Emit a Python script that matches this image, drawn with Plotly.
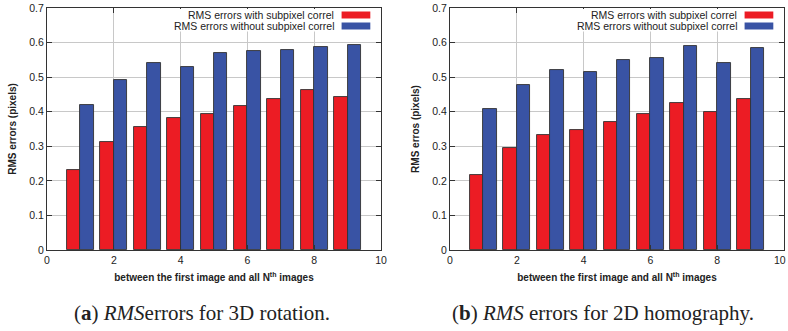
import plotly.graph_objects as go
from plotly.subplots import make_subplots

N = [1, 2, 3, 4, 5, 6, 7, 8, 9]
rot_with = [0.230, 0.313, 0.355, 0.383, 0.392, 0.416, 0.436, 0.464, 0.444]
rot_without = [0.418, 0.493, 0.540, 0.529, 0.571, 0.576, 0.579, 0.587, 0.594]
hom_with = [0.216, 0.295, 0.333, 0.348, 0.369, 0.392, 0.426, 0.398, 0.438]
hom_without = [0.409, 0.476, 0.522, 0.514, 0.551, 0.555, 0.589, 0.540, 0.585]

name_with = "RMS errors with subpixel correl"
name_without = "RMS errors without subpixel correl"
xticks = [0, 2, 4, 6, 8, 10]
yticks = [0, 0.1, 0.2, 0.3, 0.4, 0.5, 0.6, 0.7]
ylabels = ["RMS errors (pixels)", "RMS erros (pixels)"]
xlabel = "between the first image and all N<sup>th</sup> images"
captions = ["(<b>a</b>) <i>RMS</i>errors for 3D rotation.",
            "(<b>b</b>) <i>RMS</i> errors for 2D homography."]

RED = "#ec1c24"
BLUE = "#3953a4"

W, H = 788, 331
fig = make_subplots(rows=1, cols=2)

x_dom = [(47 / W, 381 / W), (450 / W, 784 / W)]
y_dom = (1 - 250 / H, 1 - 8 / H)

datasets = [(rot_with, rot_without), (hom_with, hom_without)]
for i, (vw, vwo) in enumerate(datasets):
    col = i + 1
    fig.add_trace(go.Bar(x=N, y=vw, width=0.4, offset=-0.4, name=name_with,
                         marker=dict(color=RED, line=dict(color="#333", width=0.9)),
                         showlegend=False), row=1, col=col)
    fig.add_trace(go.Bar(x=N, y=vwo, width=0.4, offset=0.0, name=name_without,
                         marker=dict(color=BLUE, line=dict(color="#333", width=0.9)),
                         showlegend=False), row=1, col=col)

axis_font = dict(family="Liberation Sans, Arial, sans-serif", size=10.5, color="#222")
title_font = dict(family="Liberation Sans, Arial, sans-serif", size=10, color="#222")

shapes = []
annotations = []
for i in range(2):
    xa = "xaxis" if i == 0 else "xaxis2"
    ya = "yaxis" if i == 0 else "yaxis2"
    fig.layout[xa].update(domain=x_dom[i], range=[0, 10], tickvals=xticks,
                          ticks="inside", ticklen=5, tickcolor="#333", mirror="ticks",
                          showline=True, linecolor="#333", linewidth=1,
                          showgrid=True, gridcolor="#c8c8c8", gridwidth=1,
                          zeroline=False, tickfont=axis_font, automargin=False,
                          title=dict(text="<b>" + xlabel + "</b>", font=title_font, standoff=9))
    fig.layout[ya].update(domain=y_dom, range=[0, 0.7], tickvals=yticks,
                          ticktext=[("%g" % v) for v in yticks],
                          ticks="inside", ticklen=5, tickcolor="#333", mirror="ticks",
                          showline=True, linecolor="#333", linewidth=1,
                          showgrid=True, gridcolor="#c8c8c8", gridwidth=1,
                          zeroline=False, tickfont=axis_font, automargin=False,
                          title=dict(text="<b>" + ylabels[i] + "</b>", font=title_font, standoff=10))

    # manual legend (text on left, swatch on right), white background covering grid
    xr = "x domain" if i == 0 else "x2 domain"
    yr = "y domain" if i == 0 else "y2 domain"
    shapes.append(dict(type="rect", xref=xr, yref=yr, x0=0.385, x1=0.993, y0=0.903, y1=0.996,
                       fillcolor="white", line=dict(width=0), layer="above"))
    for j, (nm, c) in enumerate([(name_with, RED), (name_without, BLUE)]):
        yc = 1 - (7 + 11 * j) / 242
        annotations.append(dict(xref=xr, yref=yr, x=0.865, y=yc, text=nm, showarrow=False,
                                xanchor="right", yanchor="middle",
                                font=dict(family="Liberation Sans, Arial, sans-serif", size=10.5, color="#222")))
        shapes.append(dict(type="rect", xref=xr, yref=yr, x0=0.882, x1=0.968,
                           y0=yc - 3.5 / 242, y1=yc + 3.5 / 242,
                           fillcolor=c, line=dict(width=0), layer="above"))

    cx = [202 / W, 603 / W][i]
    annotations.append(dict(xref="paper", yref="paper", x=cx, y=1 - 313 / H, text=captions[i],
                            showarrow=False, xanchor="center", yanchor="middle",
                            font=dict(family="Liberation Serif, Times New Roman, serif", size=21, color="#222")))

# right panel's last x tick label sits at the page edge; keep it inside the page
annotations.append(dict(xref="paper", yref="y2 domain", x=1.0, y=-10 / 242, text=str(xticks[-1]),
                        showarrow=False, xanchor="right", yanchor="middle", font=axis_font))

fig.update_layout(width=W, height=H, margin=dict(l=0, r=0, t=0, b=0, autoexpand=False),
                  paper_bgcolor="white", plot_bgcolor="white", barmode="overlay",
                  bargap=0, showlegend=False, shapes=shapes, annotations=annotations)

fig.write_html("out.html")
